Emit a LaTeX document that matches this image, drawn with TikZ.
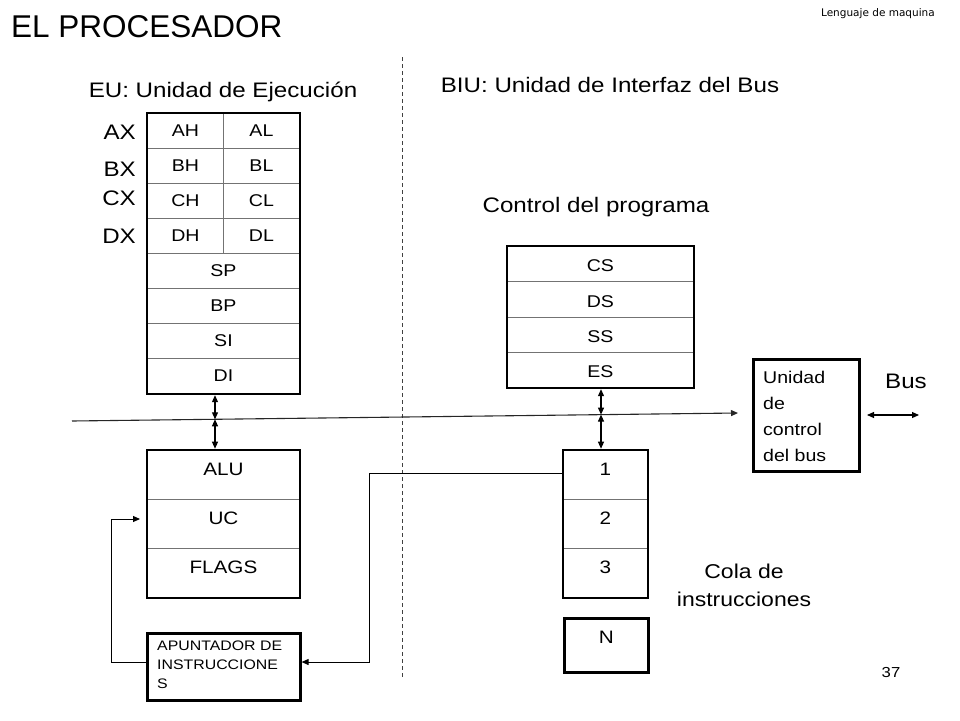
\documentclass[tikz,border=0pt]{standalone}
\usepackage{fontspec}
\setmainfont{Liberation Sans}
\newfontfamily\wf[FakeStretch=1.15]{Liberation Sans}
\newfontfamily\notefont{DejaVu Sans}
\usetikzlibrary{arrows.meta,fit}
\tikzset{
  cell/.style={draw=black!55, line width=0.9pt, inner sep=0, minimum height=#1},
  cell/.default=35,
  outerbox/.style={draw=black, line width=2.6pt, inner sep=0},
  plainbox/.style={draw=black, line width=2.6pt, inner sep=0},
  reg/.style={font=\wf\fontsize{17}{17}\selectfont, inner sep=0},
  mid/.style={font=\wf\fontsize{18}{18}\selectfont, inner sep=0},
  big/.style={font=\wf\fontsize{21}{21}\selectfont, inner sep=0},
  conn/.style={line width=1.1pt, -{Triangle[length=7pt,width=6pt]}},
  dconn/.style={line width=1.1pt, {Triangle[length=7pt,width=6pt]}-{Triangle[length=7pt,width=6pt]}},
}
\begin{document}
\begin{tikzpicture}[x=1pt,y=-1pt]
\useasboundingbox (0,0) rectangle (960,720);

% titles
\node[anchor=west, inner sep=0, font=\fontsize{31.5}{31.5}\selectfont] (title) at (11,27) {EL PROCESADOR};
\node[anchor=east, inner sep=0, font=\notefont\fontsize{10.5}{10.5}\selectfont] (note) at (935,14) {Lenguaje de maquina};
\node[big] (eu) at (223,92) {EU: Unidad de Ejecución};
\node[big] (biu) at (610,85) {BIU: Unidad de Interfaz del Bus};
\node[big] (ctrl) at (596,207) {Control del programa};

% dashed divider
\coordinate (dtop) at (402,57);
\coordinate (dbot) at (402,679);
\draw[line width=0.8pt, black!75, dash pattern=on 4pt off 3pt] (dtop) -- (dbot);

% register file
\foreach \n/\lh/\ll/\yy in {1/AH/AL/113,2/BH/BL/148,3/CH/CL/183,4/DH/DL/218}{
  \node[cell, minimum width=76, anchor=north west] (h\n) at (147,\yy) {};
  \node[cell, minimum width=76, anchor=north west] (l\n) at (223,\yy) {};
  \node[reg] (th\n) at (h\n.center) {\lh};
  \node[reg] (tl\n) at (l\n.center) {\ll};
}
\foreach \n/\t/\yy in {5/SP/253,6/BP/288,7/SI/323,8/DI/358}{
  \node[cell, minimum width=152, anchor=north west] (r\n) at (147,\yy) {};
  \node[reg] (tr\n) at (r\n.center) {\t};
}
\node[outerbox, fit=(h1)(r8)] (regs) {};

\node[big, anchor=east] (ax) at (136,132) {AX};
\node[big, anchor=east] (bx) at (136,169) {BX};
\node[big, anchor=east] (cx) at (136,198) {CX};
\node[big, anchor=east] (dx) at (136,236) {DX};

% ALU block
\foreach \n/\t/\yy in {1/ALU/450,2/UC/499,3/FLAGS/548}{
  \node[cell=49, minimum width=152, anchor=north west] (a\n) at (147,\yy) {};
  \node[mid] (ta\n) at ([yshift=-19pt]a\n.north) {\t};
}
\node[outerbox, fit=(a1)(a3)] (alu) {};

% APUNTADOR
\node[plainbox, minimum width=153, minimum height=67, anchor=north west] (apunt) at (146,632) {};
\node[anchor=north west, inner sep=0, align=left, font=\wf\fontsize{13.8}{19}\selectfont] (tapunt) at (157,641) {APUNTADOR DE\\INSTRUCCIONE\\S};

% segment registers
\foreach \n/\t/\yy in {1/CS/246,2/DS/281.25,3/SS/316.5,4/ES/351.75}{
  \node[cell=35.25, minimum width=186, anchor=north west] (s\n) at (507,\yy) {};
  \node[reg] (ts\n) at ([yshift=-2pt]s\n.center) {\t};
}
\node[outerbox, fit=(s1)(s4)] (segs) {};

% instruction queue
\foreach \n/\t/\yy in {1/1/450,2/2/499,3/3/548}{
  \node[cell=49, minimum width=84, anchor=north west] (q\n) at (563,\yy) {};
  \node[mid] (tq\n) at ([yshift=-19pt]q\n.north) {\t};
}
\node[outerbox, fit=(q1)(q3)] (queue) {};
\node[plainbox, minimum width=84, minimum height=54, anchor=north west] (qn) at (563,617) {};
\node[mid] (tqn) at ([yshift=-20pt]qn.north) {N};

\node[align=center, inner sep=0, font=\wf\fontsize{20}{28}\selectfont] (cola) at (744,585) {Cola de\\instrucciones};

% bus control unit
\node[plainbox, minimum width=106, minimum height=112, anchor=north west] (buc) at (752,358) {};
\node[anchor=north west, inner sep=0, align=left, font=\wf\fontsize{17}{26}\selectfont] (tbuc) at (763,371) {Unidad\\de\\control\\del bus};
\node[big] (bus) at (906,381) {Bus};
\coordinate (busa) at (867,415);
\coordinate (busb) at (919,415);
\draw[dconn] (busa) -- (busb);

% internal bus line
\coordinate (bl) at (72,421);
\coordinate (br) at (738,413);
\draw[conn, black!85] (bl) -- (br);
\coordinate (b1) at (215,419.3);
\coordinate (b2) at (601,414.6);
\draw[dconn] (regs.south -| b1) -- (b1);
\draw[dconn] (b1) -- (alu.north -| b1);
\draw[dconn] (segs.south -| b2) -- (b2);
\draw[dconn] (b2) -- (queue.north -| b2);

% feedback paths
\coordinate (fbend) at (140,519);
\draw[conn, line width=1pt] (apunt.west |- 0,662) -- (111,662) -- (111,519) -- (fbend);
\draw[conn, line width=1pt] (queue.west |- 0,473) -- (369,473) -- (369,662) -- (apunt.east |- 0,662);

\node[inner sep=0, font=\wf\fontsize{14.5}{14.5}\selectfont] (page) at (891,672) {37};
\end{tikzpicture}
\end{document}
